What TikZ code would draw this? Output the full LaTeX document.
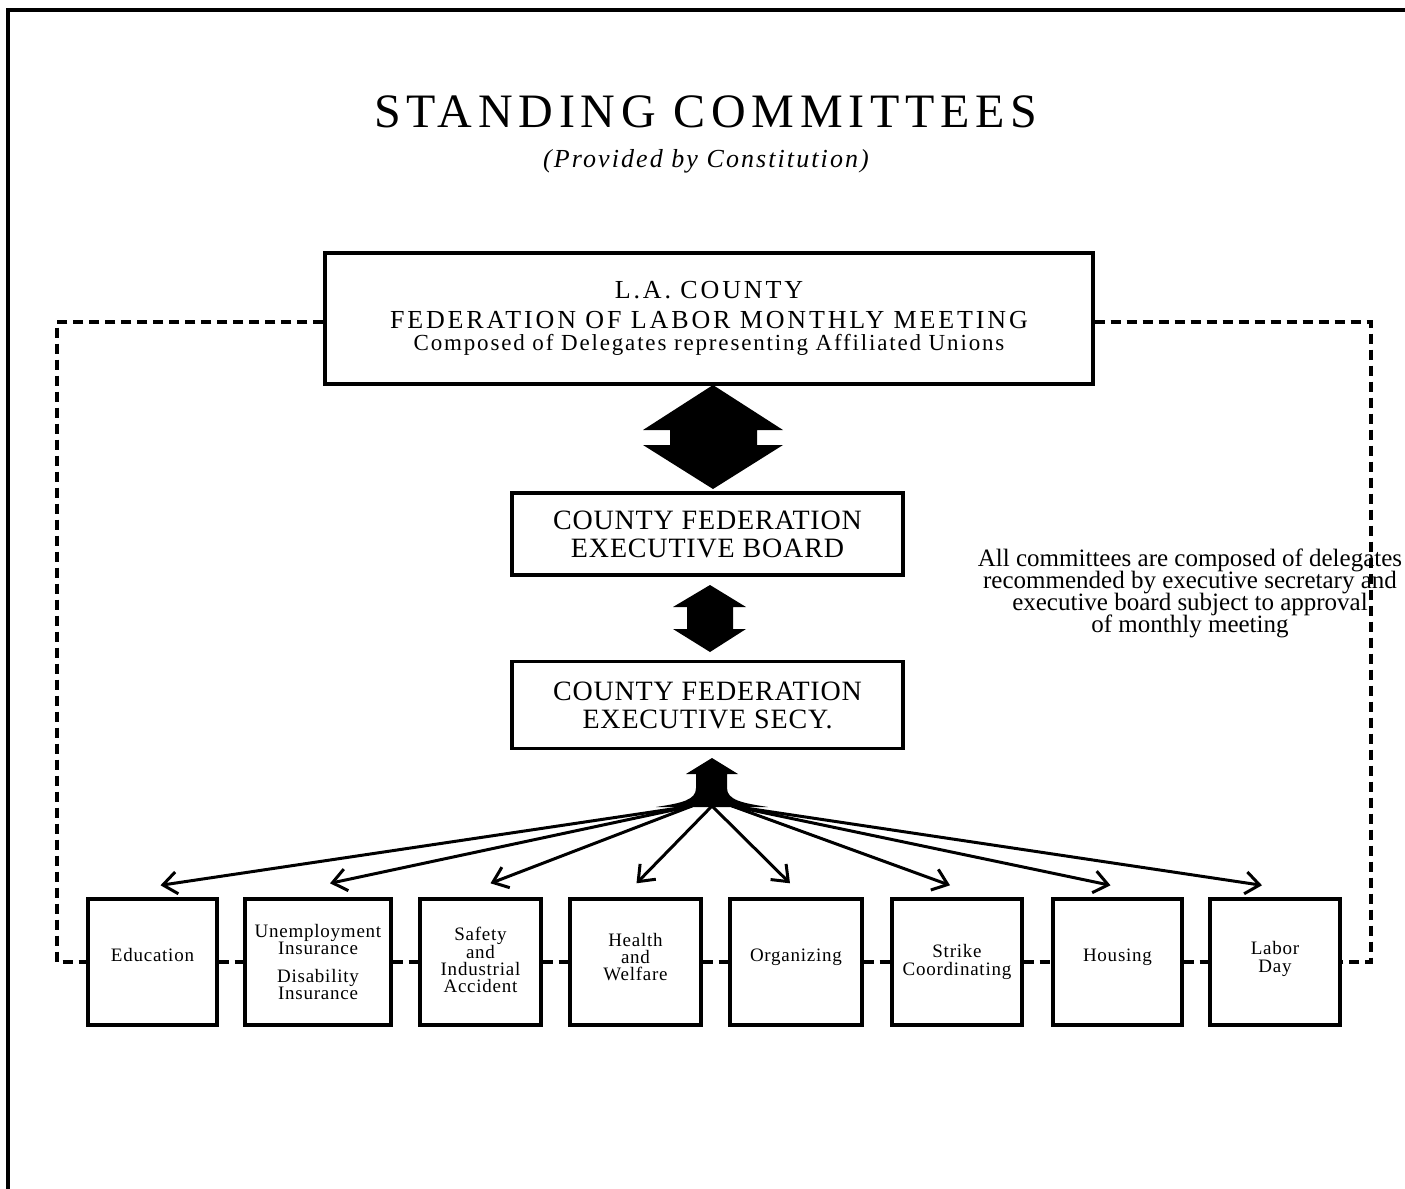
\documentclass[tikz,border=0pt]{standalone}
\usepackage{fontspec}
\setmainfont{Liberation Serif}
\newfontfamily\lsTitle[LetterSpace=12]{Liberation Serif}
\newfontfamily\lsSub[LetterSpace=8]{Liberation Serif}
\newfontfamily\lsFed[LetterSpace=11]{Liberation Serif}
\newfontfamily\lsComp[LetterSpace=8]{Liberation Serif}
\newfontfamily\lsBoard[LetterSpace=3]{Liberation Serif}
\newfontfamily\lsCom[LetterSpace=4]{Liberation Serif}
\newcommand\tightlines{\lineskiplimit=-20pt\relax}
\usetikzlibrary{arrows.meta,calc}
\begin{document}
\begin{tikzpicture}[x=0.5pt,y=-0.5pt,
  bigbox/.style={draw,line width=1.6pt,inner sep=0pt,align=center},
  combox/.style={draw,line width=1.7pt,inner sep=0pt,align=center,minimum height=63pt,
     font=\lsCom\fontsize{9.5}{8.6}\selectfont\tightlines},
  dashline/.style={line width=1.6pt,dash pattern=on 5pt off 3pt},
  fanarrow/.style={line width=1.5pt,-{Straight Barb[length=7pt,width=11pt]}},
  solidarrow/.style={fill=black,draw=none}]
\useasboundingbox (0,0) rectangle (1405,1189);
% page border
\draw[line width=1.6pt] (8,1189) -- (8,10) -- (1405,10);
% title
\node (title) at (706,112) {\lsTitle\fontsize{24}{28}\selectfont STANDING COMMITTEES};
\node (sub) at (706,161) {\lsSub\fontsize{13}{15}\selectfont\itshape (Provided by Constitution)};
% main boxes
\node[bigbox,minimum width=384pt,minimum height=65.5pt] (fed) at (709,318.5) {};
\node[align=center,inner sep=0pt,font=\lsFed\fontsize{13}{15}\selectfont\tightlines] (fedtext) at (709,318)
  {L.A. COUNTY\\
   FEDERATION OF LABOR MONTHLY MEETING\\[-4pt]
   \lsComp\fontsize{11.5}{12}\selectfont Composed of Delegates representing Affiliated Unions};
\node[bigbox,minimum width=195.5pt,minimum height=41pt,font=\lsBoard\fontsize{14}{14}\selectfont] (board) at (707.5,534)
  {COUNTY FEDERATION\\EXECUTIVE BOARD};
\node[bigbox,minimum width=195.5pt,minimum height=43.5pt,font=\lsBoard\fontsize{14}{14}\selectfont] (secy) at (707.5,705)
  {COUNTY FEDERATION\\EXECUTIVE SECY.};
% committees
\node[combox,minimum width=64.5pt] (edu) at (152.5,962) {Education\\[-1.6pt]};
\node[combox,minimum width=73pt] (unemp) at (318,962) {Unemployment\\Insurance\\[5pt]Disability\\Insurance};
\node[combox,minimum width=60.5pt] (safety) at (480.5,962) {Safety\\and\\Industrial\\Accident\\[-6.6pt]};
\node[combox,minimum width=65.5pt] (health) at (635.5,962) {Health\\and\\Welfare\\[-3.6pt]};
\node[combox,minimum width=66pt] (org) at (796,962) {Organizing\\[-1.6pt]};
\node[combox,minimum width=65pt] (strike) at (957,962) {Strike\\Coordinating};
\node[combox,minimum width=64.5pt] (housing) at (1117.5,962) {Housing\\[-1.6pt]};
\node[combox,minimum width=65pt] (labor) at (1275,962) {Labor\\Day\\[-3.6pt]};
% dashed links
\coordinate (dl) at (57,322);
\coordinate (dr) at (1371,322);
\draw[dashline] (fed.west |- dl) -- (dl) |- (edu.west);
\draw[dashline] (fed.east |- dr) -- (dr) |- (labor.east);
\draw[dashline] (edu.east) -- (unemp.west);
\draw[dashline] (unemp.east) -- (safety.west);
\draw[dashline] (safety.east) -- (health.west);
\draw[dashline] (health.east) -- (org.west);
\draw[dashline] (org.east) -- (strike.west);
\draw[dashline] (strike.east) -- (housing.west);
\draw[dashline] (housing.east) -- (labor.west);
% double arrow fed <-> board
\fill[solidarrow] (713,385) -- (783,430) -- (757,430) -- (757,445) -- (783,445) -- (713,489)
  -- (643,445) -- (670,445) -- (670,430) -- (643,430) -- cycle;
% double arrow board <-> secy
\fill[solidarrow] (710,585) -- (746,607) -- (733,607) -- (733,629) -- (746,629) -- (710,652)
  -- (673,629) -- (687,629) -- (687,607) -- (673,607) -- cycle;
% fan arrow head
\fill[solidarrow] (712,758) -- (738,774) -- (727,774) -- (727,788)
  .. controls (727,800) and (742,803) .. (768,807) -- (656,807)
  .. controls (682,803) and (696,800) .. (696,788) -- (696,774) -- (686,774) -- cycle;
\coordinate (fanL) at (692,806);
\coordinate (fanM) at (712,806);
\coordinate (fanR) at (732,806);
\draw[fanarrow] (fanL) -- ($(edu.north)+(8,-12)$);
\draw[fanarrow] (fanL) -- ($(unemp.north)+(12,-14)$);
\draw[fanarrow] (fanL) -- ($(safety.north)+(10,-14)$);
\draw[fanarrow] (fanM) -- ($(health.north)+(1,-14)$);
\draw[fanarrow] (fanM) -- ($(org.north)+(-6,-14)$);
\draw[fanarrow] (fanR) -- ($(strike.north)+(-7,-12)$);
\draw[fanarrow] (fanR) -- ($(housing.north)+(-7,-12)$);
\draw[fanarrow] (fanR) -- ($(labor.north)+(-13,-12)$);
% note
\node[align=center,font=\fontsize{12.5}{11}\selectfont\tightlines] (note) at (1190,593.5)
  {All committees are composed of delegates\\recommended by executive secretary and\\executive board subject to approval\\of monthly meeting};
\end{tikzpicture}
\end{document}
